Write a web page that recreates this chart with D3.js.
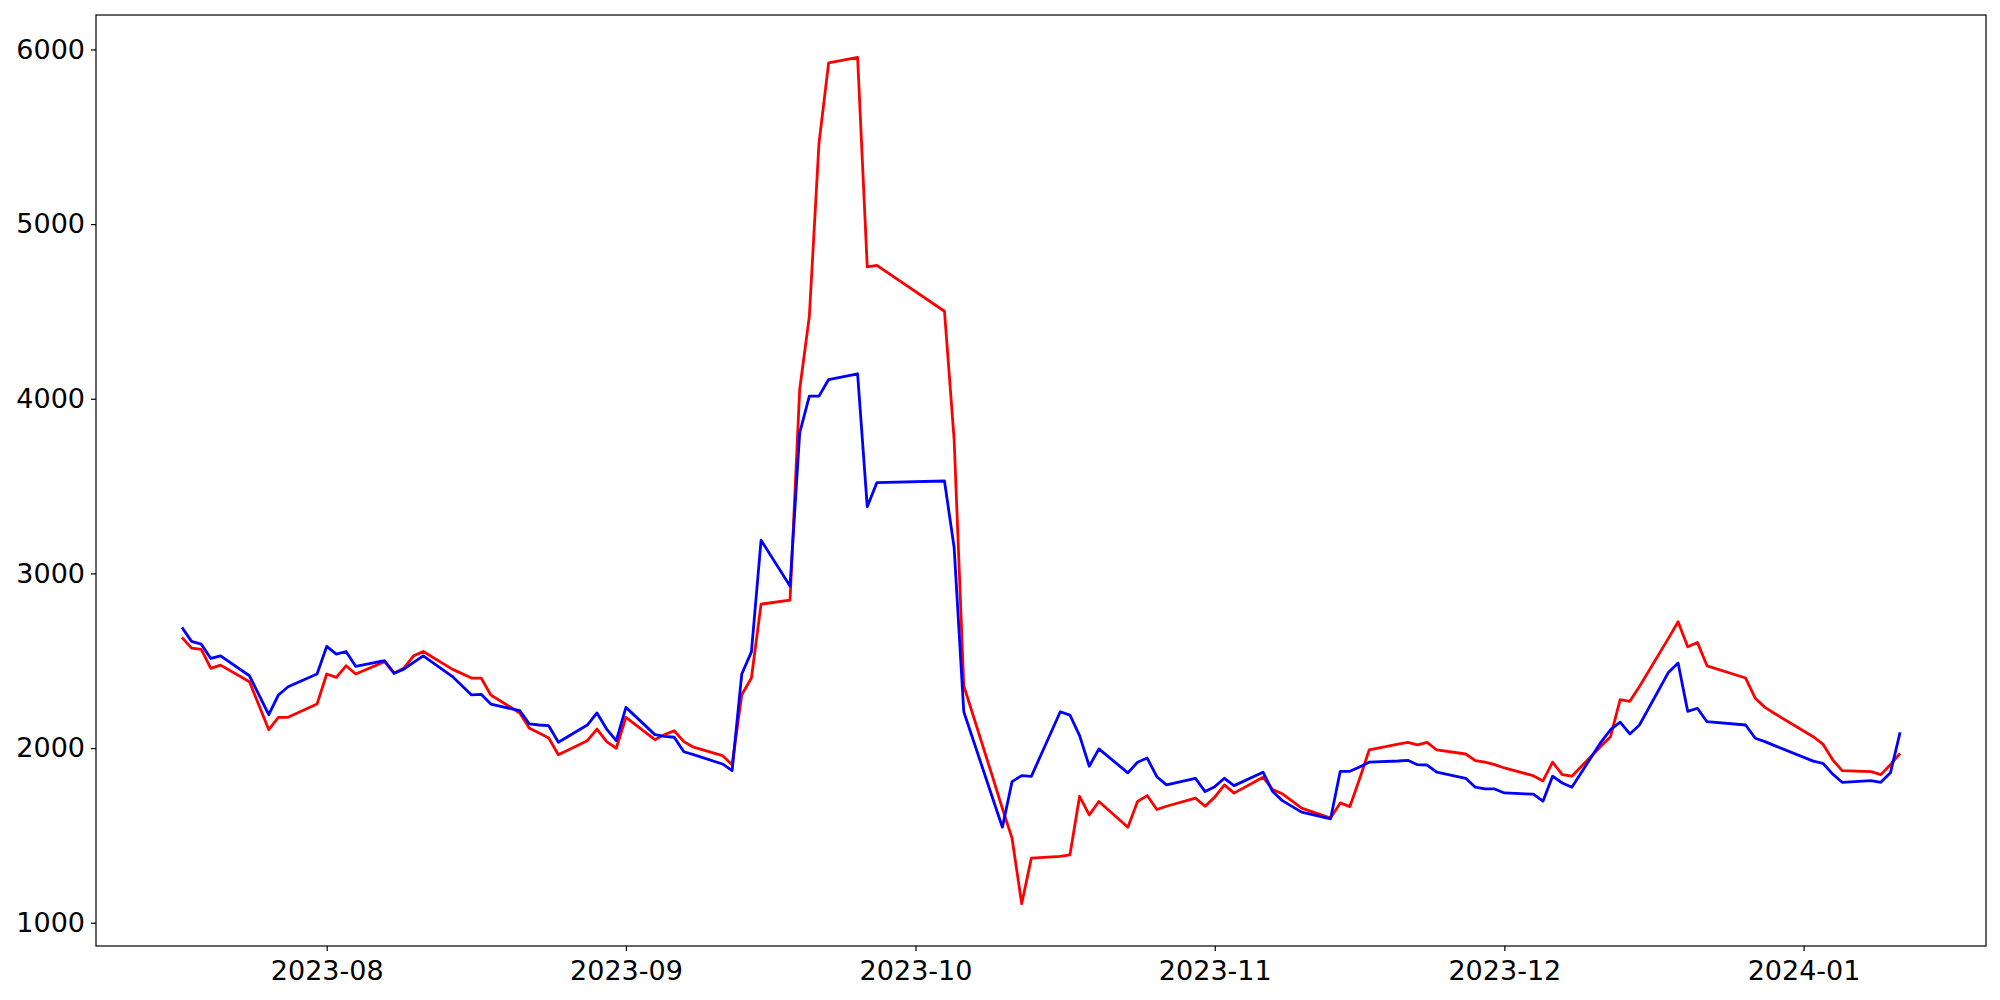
<!DOCTYPE html>
<meta charset="utf-8">
<style>
  body { margin: 0; background: #fff; }
  svg { display: block; }
  .tick text { font-family: "DejaVu Sans", sans-serif; font-size: 27px; fill: #000; }
  .tick line { stroke: #000; stroke-width: 1.2; }
</style>
<script src="https://d3js.org/d3.v7.min.js"></script>
<body>
<svg id="chart" width="2000" height="1000"></svg>
<script>
// trading days
var dates = [
  "2023-07-17","2023-07-18","2023-07-19","2023-07-20","2023-07-21","2023-07-24","2023-07-26","2023-07-27","2023-07-28","2023-07-31",
  "2023-08-01","2023-08-02","2023-08-03","2023-08-04","2023-08-07","2023-08-08","2023-08-09","2023-08-10","2023-08-11","2023-08-14",
  "2023-08-16","2023-08-17","2023-08-18","2023-08-21","2023-08-22","2023-08-23","2023-08-24","2023-08-25","2023-08-28","2023-08-29",
  "2023-08-30","2023-08-31","2023-09-01","2023-09-04","2023-09-05","2023-09-06","2023-09-07","2023-09-08","2023-09-11","2023-09-12",
  "2023-09-13","2023-09-14","2023-09-15","2023-09-18","2023-09-19","2023-09-20","2023-09-21","2023-09-22","2023-09-25","2023-09-26",
  "2023-09-27","2023-10-04","2023-10-05","2023-10-06","2023-10-09","2023-10-10","2023-10-11","2023-10-12","2023-10-13","2023-10-16",
  "2023-10-17","2023-10-18","2023-10-19","2023-10-20","2023-10-23","2023-10-24","2023-10-25","2023-10-26","2023-10-27","2023-10-30",
  "2023-10-31","2023-11-01","2023-11-02","2023-11-03","2023-11-06","2023-11-07","2023-11-08","2023-11-09","2023-11-10","2023-11-13",
  "2023-11-14","2023-11-15","2023-11-16","2023-11-17","2023-11-20","2023-11-21","2023-11-22","2023-11-23","2023-11-24","2023-11-27",
  "2023-11-28","2023-11-29","2023-11-30","2023-12-01","2023-12-04","2023-12-05","2023-12-06","2023-12-07","2023-12-08","2023-12-11",
  "2023-12-12","2023-12-13","2023-12-14","2023-12-15","2023-12-18","2023-12-19","2023-12-20","2023-12-21","2023-12-22","2023-12-26",
  "2023-12-27","2023-12-28","2023-12-29","2024-01-02","2024-01-03","2024-01-04","2024-01-05","2024-01-08","2024-01-09","2024-01-10",
  "2024-01-11"
];

var redValues = [
  2634,2572,2565,2456,2475,2380,2105,2176,2176,2252,
  2424,2405,2471,2424,2494,2428,2458,2528,2553,2452,
  2401,2401,2304,2201,2113,2086,2058,1962,2042,2109,
  2037,1999,2176,2048,2077,2099,2037,2005,1957,1905,
  2305,2401,2824,2847,4053,4472,5464,5923,5955,4755,
  4764,4501,3767,2357,1832,1654,1484,1109,1370,1380,
  1389,1724,1617,1694,1547,1694,1728,1648,1667,1713,
  1667,1719,1789,1742,1833,1762,1738,1698,1656,1599,
  1686,1665,1823,1989,2023,2033,2018,2033,1989,1966,
  1928,1919,1905,1886,1842,1812,1919,1848,1839,2010,
  2065,2277,2268,2353,2628,2723,2580,2605,2471,2401,
  2285,2233,2198,2065,2023,1934,1871,1865,1848,1905,
  1970
];

var blueValues = [
  2691,2611,2595,2513,2528,2414,2191,2304,2351,2424,
  2582,2538,2553,2468,2500,2428,2452,2491,2528,2411,
  2304,2308,2252,2214,2138,2132,2128,2033,2132,2201,
  2109,2042,2233,2077,2067,2062,1979,1962,1909,1871,
  2424,2551,3190,2928,3805,4015,4015,4110,4143,3382,
  3520,3529,3148,2208,1711,1547,1808,1842,1838,2208,
  2189,2071,1896,1995,1858,1919,1943,1836,1789,1827,
  1751,1779,1827,1785,1862,1751,1699,1666,1633,1595,
  1867,1867,1892,1919,1926,1930,1905,1903,1862,1827,
  1776,1766,1766,1743,1736,1696,1839,1800,1776,2033,
  2105,2148,2081,2132,2433,2487,2210,2228,2151,2132,
  2056,2037,2014,1925,1913,1852,1804,1814,1804,1858,
  2090
];

var yTicks = [1000, 2000, 3000, 4000, 5000, 6000];
var xTicks = ["2023-08-01","2023-09-01","2023-10-01","2023-11-01","2023-12-01","2024-01-01"];

var parse = d3.timeParse("%Y-%m-%d");
var days = dates.map(parse);

var margin = {left: 96, right: 14, top: 15, bottom: 54};
var width = 2000 - margin.left - margin.right;
var height = 1000 - margin.top - margin.bottom;

var svg = d3.select("#chart");
var g = svg.append("g").attr("transform", "translate(" + margin.left + "," + margin.top + ")");

// matplotlib-like 5% margins
var xExt = d3.extent(days);
var xPad = (xExt[1] - xExt[0]) * 0.05;
var x = d3.scaleTime()
  .domain([new Date(+xExt[0] - xPad), new Date(+xExt[1] + xPad)])
  .range([0, width]);

var allVals = redValues.concat(blueValues);
var yExt = d3.extent(allVals);
var yPad = (yExt[1] - yExt[0]) * 0.05;
var y = d3.scaleLinear()
  .domain([yExt[0] - yPad, yExt[1] + yPad])
  .range([height, 0]);

function makeLine(vals) {
  return d3.line()
    .x(function(d, i) { return x(days[i]); })
    .y(function(d) { return y(d); })(vals);
}

g.append("path")
  .attr("d", makeLine(redValues))
  .attr("fill", "none")
  .attr("stroke", "red")
  .attr("stroke-width", 2.8)
  .attr("stroke-linejoin", "round");

g.append("path")
  .attr("d", makeLine(blueValues))
  .attr("fill", "none")
  .attr("stroke", "blue")
  .attr("stroke-width", 2.8)
  .attr("stroke-linejoin", "round");

var xAxis = g.append("g")
  .attr("transform", "translate(0," + height + ")")
  .call(d3.axisBottom(x)
    .tickValues(xTicks.map(parse))
    .tickFormat(d3.timeFormat("%Y-%m"))
    .tickSize(5)
    .tickPadding(10));

var yAxis = g.append("g")
  .call(d3.axisLeft(y)
    .tickValues(yTicks)
    .tickFormat(d3.format("d"))
    .tickSize(5)
    .tickPadding(6));

xAxis.select(".domain").remove();
yAxis.select(".domain").remove();

// frame
g.append("rect")
  .attr("x", 0).attr("y", 0)
  .attr("width", width).attr("height", height)
  .attr("fill", "none")
  .attr("stroke", "#000")
  .attr("stroke-width", 1.2);
</script>
</body>
